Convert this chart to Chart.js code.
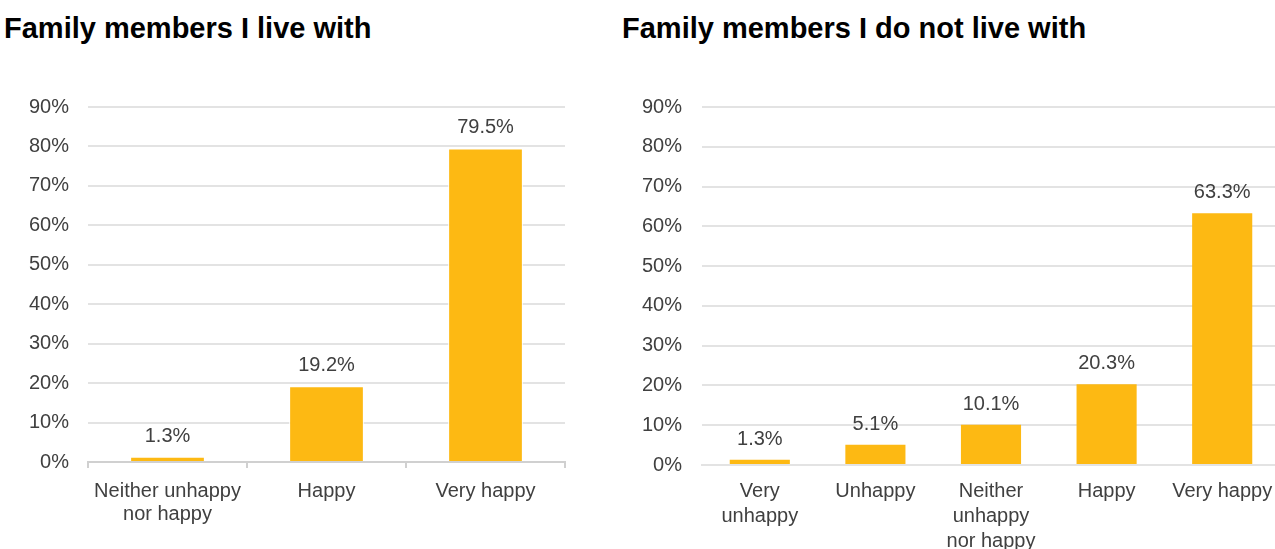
<!DOCTYPE html>
<html>
<head>
<meta charset="utf-8">
<script src="https://cdn.jsdelivr.net/npm/chart.js@4"></script>
<style>
    html, body { margin: 0; padding: 0; background: #fff; overflow: hidden; }
    body { width: 1275px; height: 549px; position: relative; font-family: "Liberation Sans", Arial, sans-serif; }
    .subtitle { position: absolute; top: 11px; font-size: 29px; line-height: 34px; font-weight: bold; color: #000; white-space: nowrap; }
    .panel { position: absolute; top: 60px; height: 489px; }
</style>
</head>
<body>
<div class="subtitle" style="left:4px">Family members I live with</div>
<div class="subtitle" style="left:622px">Family members I do not live with</div>
<div class="panel" style="left:0px;width:590px"><canvas id="liveWith"></canvas></div>
<div class="panel" style="left:600px;width:680px"><canvas id="notLiveWith"></canvas></div>
<script>
const liveCategories = [["Neither unhappy", "nor happy"], "Happy", "Very happy"];
const liveValues = [1.3, 19.2, 79.5];

const apartCategories = [["Very", "unhappy"], "Unhappy", ["Neither", "unhappy", "nor happy"], "Happy", "Very happy"];
const apartValues = [1.3, 5.1, 10.1, 20.3, 63.3];

const yTicks = [0, 10, 20, 30, 40, 50, 60, 70, 80, 90];

const BAR_COLOR = "#FDB913";
const TEXT_COLOR = "#404040";
const GRID_COLOR = "#e3e3e3";
const FONT = "'Liberation Sans', Arial, sans-serif";

// writes each bar's value just above it
const valueLabels = {
    id: "valueLabels",
    afterDatasetsDraw(chart) {
        const ctx = chart.ctx;
        const meta = chart.getDatasetMeta(0);
        ctx.save();
        ctx.font = "20px " + FONT;
        ctx.fillStyle = TEXT_COLOR;
        ctx.textAlign = "center";
        ctx.textBaseline = "alphabetic";
        meta.data.forEach((bar, i) => {
            const v = chart.data.datasets[0].data[i];
            ctx.fillText(v.toFixed(1) + "%", bar.x, bar.y - 15);
        });
        ctx.restore();
    },
};

function makeChart(canvasId, labels, values, opts) {
    const canvas = document.getElementById(canvasId);
    return new Chart(canvas, {
        type: "bar",
        data: {
            labels: labels,
            datasets: [{
                data: values,
                backgroundColor: BAR_COLOR,
                borderColor: opts.barBorder,
                borderWidth: opts.barBorder ? 1 : 0,
                barPercentage: opts.barPct,
                categoryPercentage: 1,
            }],
        },
        plugins: [valueLabels],
        options: {
            responsive: true,
            maintainAspectRatio: false,
            animation: false,
            events: [],
            layout: { padding: { top: 47, right: opts.rightPad, left: 0, bottom: 0 } },
            plugins: { legend: { display: false }, tooltip: { enabled: false } },
            scales: {
                x: {
                    afterFit: (scale) => {
                        scale.height = opts.xHeight;
                        scale.paddingLeft = 0;
                        scale.paddingRight = 0;
                    },
                    border: { display: true, color: opts.axisColor, width: 2 },
                    grid: {
                        display: opts.xTicks,
                        drawOnChartArea: false,
                        drawTicks: opts.xTicks,
                        tickLength: 6,
                        color: opts.axisColor,
                        lineWidth: 2,
                    },
                    ticks: {
                        color: TEXT_COLOR,
                        padding: opts.xPad,
                        maxRotation: 0,
                        autoSkip: false,
                        font: { family: FONT, size: 20, lineHeight: opts.lineHeight },
                    },
                },
                y: {
                    min: 0,
                    max: 90,
                    afterFit: (scale) => { scale.width = opts.yWidth; },
                    afterBuildTicks: (scale) => { scale.ticks = yTicks.map((v) => ({ value: v })); },
                    border: { display: false },
                    grid: { color: GRID_COLOR, lineWidth: 2, drawTicks: false },
                    ticks: {
                        color: TEXT_COLOR,
                        padding: opts.yPad,
                        font: { family: FONT, size: 20 },
                        callback: (v) => v + "%",
                    },
                },
            },
        },
    });
}

makeChart("liveWith", liveCategories, liveValues, {
    barPct: 0.47, barBorder: "#ffffff", rightPad: 25, xHeight: 87, yWidth: 88, yPad: 19,
    xTicks: true, xPad: 12, lineHeight: 1.15, axisColor: "#d0d0d0",
});

makeChart("notLiveWith", apartCategories, apartValues, {
    barPct: 0.52, barBorder: null, rightPad: 0, xHeight: 84, yWidth: 102, yPad: 20,
    xTicks: false, xPad: 14, lineHeight: 1.25, axisColor: GRID_COLOR,
});
</script>
</body>
</html>
